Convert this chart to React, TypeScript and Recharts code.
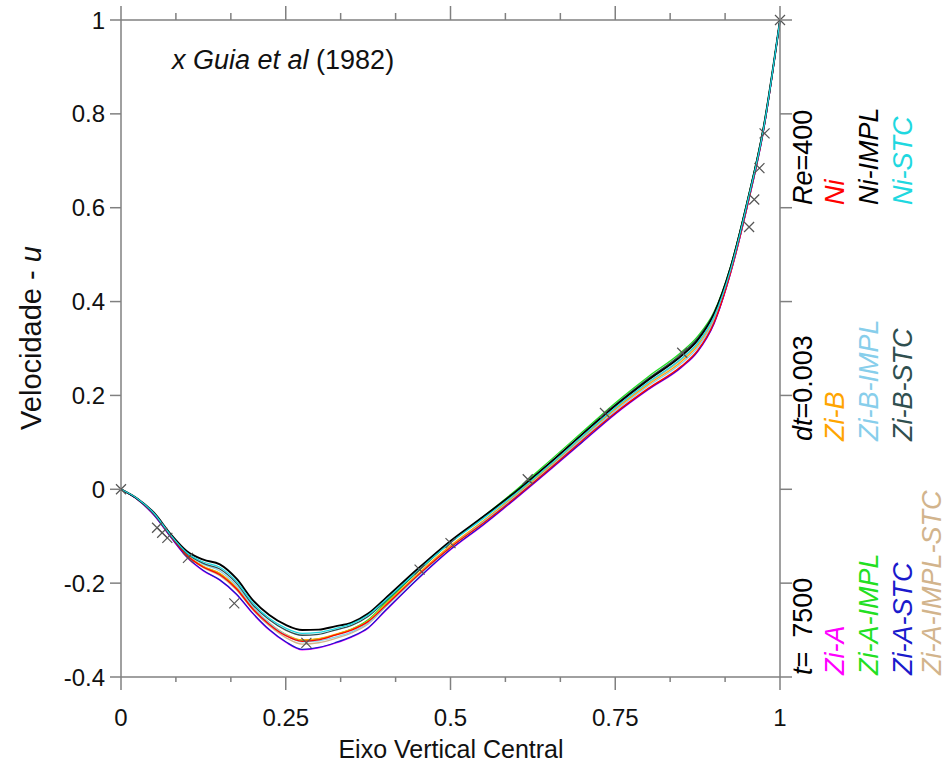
import React from "react";
import { ComposedChart, Line, Scatter, XAxis, YAxis } from "recharts";

// posições ao longo do eixo vertical central
const eixo = [0, 0.025, 0.05, 0.075, 0.1, 0.125, 0.15, 0.175, 0.2, 0.225, 0.25, 0.275, 0.3, 0.325, 0.35, 0.375, 0.4, 0.45, 0.5, 0.55, 0.6, 0.65, 0.7, 0.75, 0.8, 0.85, 0.875, 0.9, 0.925, 0.95, 0.975, 1];

const ni = [0, -0.021, -0.053, -0.099, -0.141, -0.166, -0.182, -0.212, -0.255, -0.288, -0.312, -0.324, -0.321, -0.311, -0.3, -0.282, -0.25, -0.184, -0.124, -0.072, -0.016, 0.043, 0.104, 0.163, 0.215, 0.262, 0.296, 0.356, 0.462, 0.602, 0.765, 1];
const niImpl = [0, -0.02, -0.05, -0.095, -0.132, -0.15, -0.16, -0.19, -0.236, -0.268, -0.289, -0.3, -0.299, -0.292, -0.284, -0.265, -0.234, -0.17, -0.11, -0.058, -0.004, 0.055, 0.117, 0.178, 0.233, 0.284, 0.318, 0.374, 0.472, 0.61, 0.77, 1];
const niStc = [0, -0.02, -0.051, -0.097, -0.135, -0.155, -0.166, -0.196, -0.242, -0.275, -0.296, -0.307, -0.305, -0.297, -0.287, -0.268, -0.238, -0.174, -0.114, -0.062, -0.008, 0.051, 0.113, 0.174, 0.228, 0.278, 0.312, 0.368, 0.468, 0.608, 0.768, 1];
const ziB = [0, -0.021, -0.053, -0.099, -0.14, -0.164, -0.179, -0.209, -0.252, -0.285, -0.309, -0.321, -0.318, -0.309, -0.298, -0.28, -0.247, -0.181, -0.12, -0.067, -0.011, 0.048, 0.11, 0.17, 0.223, 0.272, 0.306, 0.362, 0.466, 0.605, 0.767, 1];
const ziBImpl = [0, -0.02, -0.051, -0.097, -0.137, -0.16, -0.174, -0.205, -0.25, -0.285, -0.31, -0.325, -0.323, -0.315, -0.304, -0.285, -0.252, -0.186, -0.124, -0.07, -0.014, 0.045, 0.107, 0.167, 0.22, 0.268, 0.302, 0.36, 0.464, 0.604, 0.766, 1];
const ziBStc = [0, -0.021, -0.052, -0.098, -0.137, -0.158, -0.17, -0.2, -0.246, -0.278, -0.3, -0.311, -0.309, -0.3, -0.29, -0.271, -0.24, -0.175, -0.113, -0.06, -0.005, 0.055, 0.118, 0.18, 0.236, 0.288, 0.322, 0.376, 0.474, 0.611, 0.771, 1];
const ziA = [0, -0.022, -0.055, -0.101, -0.145, -0.174, -0.194, -0.224, -0.265, -0.3, -0.326, -0.342, -0.338, -0.328, -0.315, -0.296, -0.261, -0.192, -0.129, -0.076, -0.019, 0.04, 0.1, 0.16, 0.212, 0.259, 0.293, 0.353, 0.46, 0.6, 0.764, 1];
const ziAImpl = [0, -0.021, -0.053, -0.099, -0.14, -0.165, -0.18, -0.21, -0.253, -0.286, -0.31, -0.322, -0.319, -0.31, -0.298, -0.278, -0.244, -0.176, -0.113, -0.058, -0.001, 0.06, 0.122, 0.184, 0.24, 0.292, 0.326, 0.378, 0.475, 0.612, 0.771, 1];
const ziAStc = [0, -0.022, -0.055, -0.101, -0.144, -0.173, -0.193, -0.223, -0.264, -0.299, -0.325, -0.341, -0.337, -0.327, -0.314, -0.295, -0.26, -0.191, -0.128, -0.075, -0.018, 0.041, 0.101, 0.161, 0.213, 0.26, 0.294, 0.354, 0.461, 0.601, 0.764, 1];
const ziAImplStc = [0, -0.021, -0.053, -0.099, -0.141, -0.167, -0.184, -0.214, -0.257, -0.291, -0.316, -0.33, -0.327, -0.318, -0.306, -0.287, -0.253, -0.185, -0.122, -0.068, -0.011, 0.049, 0.111, 0.172, 0.226, 0.276, 0.31, 0.365, 0.467, 0.606, 0.768, 1];

// Ghia et al (1982), Re=400
const ghiaY = [0, 0.0547, 0.0625, 0.0703, 0.1016, 0.1719, 0.2813, 0.4531, 0.5, 0.6172, 0.7344, 0.8516, 0.9531, 0.9609, 0.9688, 0.9766, 1];
const ghiaU = [0, -0.08186, -0.09266, -0.10338, -0.14612, -0.24299, -0.32726, -0.17119, -0.11477, 0.02135, 0.16256, 0.29093, 0.55892, 0.61756, 0.68439, 0.75837, 1];

const xTicks = [0, 0.0833, 0.1667, 0.25, 0.3333, 0.4167, 0.5, 0.5833, 0.6667, 0.75, 0.8333, 0.9167, 1];
const yTicks = [-0.4, -0.2, 0, 0.2, 0.4, 0.6, 0.8, 1];

const series = [
  { key: "ziAImplStc", values: ziAImplStc, color: "#d2b48c" },
  { key: "ziAImpl", values: ziAImpl, color: "#22e022" },
  { key: "ziB", values: ziB, color: "#ffa500" },
  { key: "ziA", values: ziA, color: "#ff00ff" },
  { key: "ziAStc", values: ziAStc, color: "#1a1acc" },
  { key: "ziBImpl", values: ziBImpl, color: "#87ceeb" },
  { key: "ni", values: ni, color: "#ff0000" },
  { key: "ziBStc", values: ziBStc, color: "#2f4f4f" },
  { key: "niImpl", values: niImpl, color: "#000000" },
  { key: "niStc", values: niStc, color: "#1fd8e0" },
];

const data = eixo.map((x, i) => {
  const row: Record<string, number> = { x };
  series.forEach((s) => (row[s.key] = s.values[i]));
  return row;
});
const ghia = ghiaY.map((x, i) => ({ x, u: ghiaU[i] }));

const FONT = '"Liberation Sans", Arial, sans-serif';
const AXIS = "#808080";

const isMajor = (v: number) => Math.abs(v * 4 - Math.round(v * 4)) < 1e-3;

const BottomTick = (props: any) => {
  const { x, y, payload } = props;
  const major = isMajor(payload.value);
  return (
    <g>
      <line x1={x} x2={x} y1={y} y2={y + (major ? 13 : 5)} stroke={AXIS} strokeWidth={1.5} />
      {major && (
        <text x={x} y={y + 49} textAnchor="middle" fontSize={24} fontFamily={FONT} fill="#111">
          {String(payload.value)}
        </text>
      )}
    </g>
  );
};

const TopTick = (props: any) => {
  const { x, y, payload } = props;
  const major = isMajor(payload.value);
  return <line x1={x} x2={x} y1={y} y2={y - (major ? 14 : 7)} stroke={AXIS} strokeWidth={1.5} />;
};

const LeftTick = (props: any) => {
  const { x, y, payload } = props;
  return (
    <g>
      <line x1={x} x2={x - 11} y1={y} y2={y} stroke={AXIS} strokeWidth={1.5} />
      <text x={x - 16} y={y} dy="0.36em" textAnchor="end" fontSize={24} fontFamily={FONT} fill="#111">
        {String(payload.value)}
      </text>
    </g>
  );
};

const RightTick = (props: any) => {
  const { x, y } = props;
  return <line x1={x} x2={x + 12} y1={y} y2={y} stroke={AXIS} strokeWidth={1.5} />;
};

const Cross = (props: any) => {
  const { cx, cy } = props;
  const s = 5;
  return (
    <path
      d={`M${cx - s},${cy - s}L${cx + s},${cy + s}M${cx - s},${cy + s}L${cx + s},${cy - s}`}
      stroke="#555"
      strokeWidth={1.2}
      fill="none"
    />
  );
};

const labelCols = [802, 834, 868, 902, 931];
const labelRows = [205, 441, 675];

function Vert({ x, y, children }: { x: number; y: number; children: React.ReactNode }) {
  const bx = x + 10;
  return (
    <text x={bx} y={y} transform={`rotate(-90 ${bx} ${y})`} fontSize={27} fontFamily={FONT}>
      {children}
    </text>
  );
}

export default function App() {
  return (
    <div style={{ position: "absolute", left: 0, top: 0, width: 950, height: 765, background: "#fff" }}>
      <ComposedChart width={950} height={765} data={data} margin={{ top: 8, right: 158, left: 61, bottom: 58 }}>
        <XAxis
          dataKey="x"
          type="number"
          domain={[0, 1]}
          ticks={xTicks}
          axisLine={{ stroke: AXIS, strokeWidth: 1.5 }}
          tickLine={false}
          tickSize={0}
          tickMargin={0}
          tick={<BottomTick />}
          height={30}
          interval={0}
        />
        <XAxis
          xAxisId="top"
          orientation="top"
          dataKey="x"
          type="number"
          domain={[0, 1]}
          allowDataOverflow
          ticks={xTicks}
          axisLine={{ stroke: AXIS, strokeWidth: 1.5 }}
          tickLine={false}
          tickSize={0}
          tickMargin={0}
          tick={<TopTick />}
          height={12}
          interval={0}
        />
        <YAxis
          type="number"
          domain={[-0.4, 1]}
          ticks={yTicks}
          axisLine={{ stroke: AXIS, strokeWidth: 1.5 }}
          tickLine={false}
          tickSize={0}
          tickMargin={0}
          tick={<LeftTick />}
          width={60}
          interval={0}
        />
        <YAxis
          yAxisId="right"
          orientation="right"
          type="number"
          domain={[-0.4, 1]}
          allowDataOverflow
          ticks={yTicks}
          axisLine={{ stroke: AXIS, strokeWidth: 1.5 }}
          tickLine={false}
          tickSize={0}
          tickMargin={0}
          tick={<RightTick />}
          width={12}
          interval={0}
        />
        {series.map((s) => (
          <Line
            key={s.key}
            type="monotone"
            dataKey={s.key}
            stroke={s.color}
            strokeWidth={s.key === "niImpl" ? 1.9 : 1.3}
            dot={false}
            isAnimationActive={false}
          />
        ))}
        <Scatter data={ghia} dataKey="u" shape={<Cross />} isAnimationActive={false} />
      </ComposedChart>

      <svg
        width={950}
        height={765}
        style={{ position: "absolute", left: 0, top: 0, pointerEvents: "none" }}
      >
        <text x={172} y={69} fontSize={27} fontFamily={FONT} fill="#111">
          <tspan fontStyle="italic">x Guia et al</tspan>
          <tspan> (1982)</tspan>
        </text>
        <text x={451} y={758} textAnchor="middle" fontSize={25} fontFamily={FONT} fill="#111">
          Eixo Vertical Central
        </text>
        <text
          x={41}
          y={338}
          textAnchor="middle"
          transform="rotate(-90 41 338)"
          fontSize={29}
          fontFamily={FONT}
          fill="#111"
        >
          Velocidade - <tspan fontStyle="italic">u</tspan>
        </text>

        <Vert x={labelCols[0]} y={labelRows[0]}>
          <tspan fontStyle="italic">Re</tspan>=400
        </Vert>
        <Vert x={labelCols[0]} y={labelRows[1]}>
          <tspan fontStyle="italic">dt</tspan>=0.003
        </Vert>
        <Vert x={labelCols[0]} y={labelRows[2]}>
          <tspan fontStyle="italic">t</tspan>=<tspan dx={14}>7500</tspan>
        </Vert>

        <Vert x={labelCols[1]} y={labelRows[0]}>
          <tspan fill="#ff0000" fontStyle="italic">Ni</tspan>
        </Vert>
        <Vert x={labelCols[2]} y={labelRows[0]}>
          <tspan fill="#000" fontStyle="italic">Ni-IMPL</tspan>
        </Vert>
        <Vert x={labelCols[3]} y={labelRows[0]}>
          <tspan fill="#1fd8e0" fontStyle="italic">Ni-STC</tspan>
        </Vert>

        <Vert x={labelCols[1]} y={labelRows[1]}>
          <tspan fill="#ffa500" fontStyle="italic">Zi-B</tspan>
        </Vert>
        <Vert x={labelCols[2]} y={labelRows[1]}>
          <tspan fill="#87ceeb" fontStyle="italic">Zi-B-IMPL</tspan>
        </Vert>
        <Vert x={labelCols[3]} y={labelRows[1]}>
          <tspan fill="#2f4f4f" fontStyle="italic">Zi-B-STC</tspan>
        </Vert>

        <Vert x={labelCols[1]} y={labelRows[2]}>
          <tspan fill="#ff00ff" fontStyle="italic">Zi-A</tspan>
        </Vert>
        <Vert x={labelCols[2]} y={labelRows[2]}>
          <tspan fill="#22e022" fontStyle="italic">Zi-A-IMPL</tspan>
        </Vert>
        <Vert x={labelCols[3]} y={labelRows[2]}>
          <tspan fill="#1a1acc" fontStyle="italic">Zi-A-STC</tspan>
        </Vert>
        <Vert x={labelCols[4]} y={labelRows[2]}>
          <tspan fill="#d2b48c" fontStyle="italic">Zi-A-IMPL-STC</tspan>
        </Vert>
      </svg>
    </div>
  );
}
